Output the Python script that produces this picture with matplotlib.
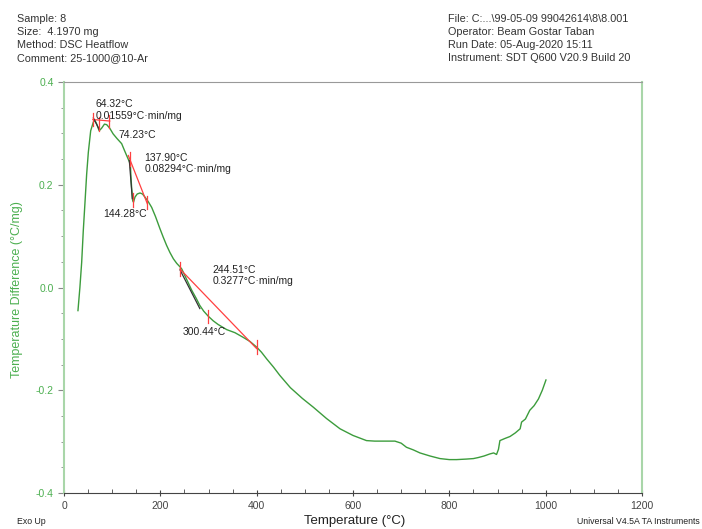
import matplotlib
matplotlib.use("Agg")
import matplotlib.pyplot as plt
import numpy as np

# Main DSC curve (temperature °C, temperature difference °C/mg)
temp = [29, 33, 36.7, 40, 43.6, 47, 50.5, 55.4, 60.9, 64.3, 68, 73, 78, 84, 88.6, 95, 102,
        110, 119.7, 125, 130, 135.6, 137.9, 139, 140.5, 142.6, 144.3, 147.4, 152, 157.8, 163,
        168, 175, 182, 190, 199, 206, 213, 220, 227, 234, 241, 244.5, 255, 265, 275, 282,
        290, 299.6, 310, 320, 337.8, 355, 372, 386, 400, 410, 420.8, 435, 448, 470, 495,
        517.6, 545, 573, 600, 628, 645, 660, 687, 700, 711, 725, 739, 760, 780.6, 800,
        815, 835, 850, 860, 872, 884, 892, 898, 902, 905, 915, 926, 937, 947, 950, 958,
        967, 976, 985, 993, 1000.6]
dtemp = [-0.045, 0.0, 0.049, 0.11, 0.166, 0.22, 0.263, 0.305, 0.322, 0.325, 0.318, 0.305,
         0.31, 0.318, 0.317, 0.31, 0.299, 0.29, 0.28, 0.268, 0.257, 0.245, 0.238, 0.215,
         0.193, 0.169, 0.166, 0.176, 0.182, 0.184, 0.182, 0.176, 0.167, 0.156, 0.138, 0.115,
         0.098, 0.082, 0.068, 0.056, 0.047, 0.040, 0.036, 0.015, -0.005, -0.022, -0.035,
         -0.046, -0.056, -0.065, -0.072, -0.082, -0.088, -0.097, -0.105, -0.116, -0.126,
         -0.139, -0.155, -0.171, -0.195, -0.216, -0.233, -0.255, -0.275, -0.288, -0.298,
         -0.299, -0.299, -0.299, -0.303, -0.311, -0.316, -0.322, -0.328, -0.333, -0.335,
         -0.335, -0.334, -0.333, -0.331, -0.328, -0.324, -0.322, -0.325, -0.315, -0.298,
         -0.294, -0.290, -0.283, -0.275, -0.262, -0.256, -0.239, -0.23, -0.217, -0.200,
         -0.180]

# Analysis constructions
peak1_base_x = [60, 95]
peak1_base_y = [0.327, 0.324]
peak1_black_x = [61, 73]
peak1_black_y = [0.330, 0.308]
peak1_ticks_x = [61, 73, 93]
peak1_ticks_y = [0.327, 0.318, 0.323]

peak2_red_x = [133.5, 173]
peak2_red_y = [0.257, 0.163]
peak2_black_x = [135.6, 141.8]
peak2_black_y = [0.247, 0.173]
peak2_ticks_x = [136, 143, 172]
peak2_ticks_y = [0.250, 0.170, 0.166]

peak3_red_x = [240.8, 400]
peak3_red_y = [0.036, -0.119]
peak3_black_x = [241, 282]
peak3_black_y = [0.034, -0.041]
peak3_ticks_x = [241, 299.6, 400]
peak3_ticks_y = [0.036, -0.056, -0.116]

annotations = [
    (66, 0.357, "64.32°C"),
    (66, 0.334, "0.01559°C·min/mg"),
    (113, 0.296, "74.23°C"),
    (167, 0.253, "137.90°C"),
    (167, 0.230, "0.08294°C·min/mg"),
    (82, 0.144, "144.28°C"),
    (308, 0.035, "244.51°C"),
    (308, 0.012, "0.3277°C·min/mg"),
    (246, -0.086, "300.44°C"),
]

header_left = ["Sample: 8", "Size:  4.1970 mg", "Method: DSC Heatflow", "Comment: 25-1000@10-Ar"]
header_right = ["File: C:...\\99-05-09 99042614\\8\\8.001", "Operator: Beam Gostar Taban",
                "Run Date: 05-Aug-2020 15:11", "Instrument: SDT Q600 V20.9 Build 20"]

plt.rcParams['font.family'] = ['Liberation Sans', 'DejaVu Sans']

fig = plt.figure(figsize=(7.02, 5.29), dpi=100)
ax = fig.add_axes([64/702, 1-493/529, (642-64)/702, (493-82)/529])

green = '#3c9c3c'
light_green = '#a9d6a9'
ax.plot(temp, dtemp, color=green, lw=1.0)

red = '#ff4040'
ax.plot(peak1_base_x, peak1_base_y, color=red, lw=0.9)
ax.plot(peak1_black_x, peak1_black_y, color='#333333', lw=0.9)
ax.plot(peak2_red_x, peak2_red_y, color=red, lw=0.9)
ax.plot(peak2_black_x, peak2_black_y, color='#333333', lw=0.9)
ax.plot(peak3_red_x, peak3_red_y, color=red, lw=0.9)
ax.plot(peak3_black_x, peak3_black_y, color='#333333', lw=0.9)
for tx, ty in zip(peak1_ticks_x + peak2_ticks_x + peak3_ticks_x,
                  peak1_ticks_y + peak2_ticks_y + peak3_ticks_y):
    ax.plot([tx, tx], [ty - 0.013, ty + 0.013], color=red, lw=0.9)

for x, y, s in annotations:
    ax.text(x, y, s, fontsize=7.5, color='#222222', va='center', ha='left')

ax.set_xlim(0, 1200)
ax.set_ylim(-0.4, 0.4)
ax.set_xticks(np.arange(0, 1201, 200))
ax.set_xticks(np.arange(0, 1201, 50), minor=True)
ax.set_yticks([-0.4, -0.2, 0.0, 0.2, 0.4])
ax.set_yticklabels(['-0.4', '-0.2', '0.0', '0.2', '0.4'])
ax.set_yticks(np.arange(-0.4, 0.401, 0.05), minor=True)

ax.spines['left'].set_color(light_green)
ax.spines['right'].set_color(light_green)
ax.spines['left'].set_linewidth(1.5)
ax.spines['right'].set_linewidth(1.5)
ax.spines['top'].set_color('#999999')
ax.spines['bottom'].set_color('#444444')

ax.tick_params(axis='y', which='both', colors='#888888', labelcolor='#4caf50', labelsize=7.5, length=4)
ax.tick_params(axis='y', which='minor', length=2.5)
ax.tick_params(axis='x', which='major', colors='#444444', labelsize=7.5, length=4, direction='inout')
ax.tick_params(axis='x', which='minor', colors='#444444', length=3, direction='in')

fig.text(17/702, 1 - 290/529, "Temperature Difference (°C/mg)", color='#4caf50', fontsize=9,
         rotation=90, va='center', ha='center')
fig.text(355/702, 1 - 521/529, "Temperature (°C)", color='#222222', fontsize=9.5,
         va='center', ha='center')

for i, s in enumerate(header_left):
    fig.text(17/702, 1 - (19 + 13*i)/529, s, fontsize=7.8, color='#333333', va='center', ha='left')
for i, s in enumerate(header_right):
    fig.text(448/702, 1 - (19 + 13*i)/529, s, fontsize=7.8, color='#333333', va='center', ha='left')

fig.text(17/702, 1 - 522/529, "Exo Up", fontsize=6.3, color='#222222', va='center', ha='left')
fig.text(700/702, 1 - 522/529, "Universal V4.5A TA Instruments", fontsize=6.3, color='#222222',
         va='center', ha='right')

fig.savefig("out.png", dpi=100)
